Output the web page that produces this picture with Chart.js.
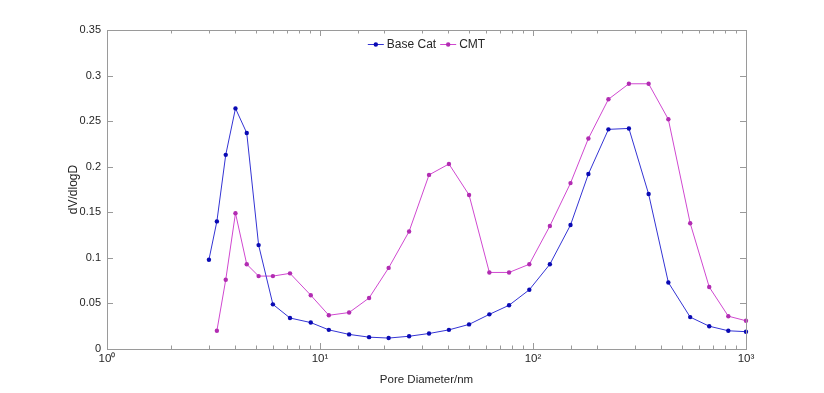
<!DOCTYPE html>
<html lang="en">
<head>
    <meta charset="UTF-8">
    <title>Pore size distribution</title>
    <script src="https://cdn.jsdelivr.net/npm/chart.js"></script>
    <style>
        html, body { margin: 0; padding: 0; background: #ffffff; }
        #wrap { width: 824px; height: 393px; }
    </style>
</head>
<body>
    <div id="wrap"><canvas id="grafico" width="824" height="393"></canvas></div>

    <script>
        // Pore diameter (nm) for every point of Base Cat
        const poreDiameter = [3.01, 3.28, 3.61, 4.01, 4.53, 5.15, 6.01, 7.23, 9.05, 11.0,
                              13.7, 17.0, 21.0, 26.2, 32.5, 40.3, 50.1, 62.4, 77.2, 96.1,
                              120, 150, 182, 226, 282, 349, 432, 547, 672, 826, 1000];
        const baseCat = [0.098, 0.140, 0.213, 0.264, 0.237, 0.114, 0.049, 0.034, 0.029, 0.021,
                         0.016, 0.013, 0.012, 0.014, 0.017, 0.021, 0.027, 0.038, 0.048, 0.065,
                         0.093, 0.136, 0.192, 0.241, 0.242, 0.170, 0.073, 0.035, 0.025, 0.020, 0.019];
        // CMT starts at the second diameter
        const cmtDiameter = [3.28, 3.61, 4.01, 4.53, 5.15, 6.01, 7.23, 9.05, 11.0,
                             13.7, 17.0, 21.0, 26.2, 32.5, 40.3, 50.1, 62.4, 77.2, 96.1,
                             120, 150, 182, 226, 282, 349, 432, 547, 672, 826, 1000];
        const cmt = [0.020, 0.076, 0.149, 0.093, 0.080, 0.080, 0.083, 0.059, 0.037,
                     0.040, 0.056, 0.089, 0.129, 0.191, 0.203, 0.169, 0.084, 0.084, 0.093,
                     0.135, 0.182, 0.231, 0.274, 0.291, 0.291, 0.252, 0.138, 0.068, 0.036, 0.031];
        const seriesNames = ['Base Cat', 'CMT'];
        const yTicks = [0, 0.05, 0.1, 0.15, 0.2, 0.25, 0.3, 0.35];
        const superDigits = ['⁰', '¹', '²', '³'];

        const textColor = '#262626';
        const axisColor = '#9a9a9a';
        const fontFamily = '"Liberation Sans", Arial, Helvetica, sans-serif';

        function toPoints(xs, ys) {
            return xs.map((x, i) => ({ x: x, y: ys[i] }));
        }

        // Box round the plot, inner ticks on all four sides, legend inside the plot
        const matlabAxes = {
            id: 'matlabAxes',
            afterDraw(chart) {
                const ctx = chart.ctx;
                const a = chart.chartArea;
                const xs = chart.scales.x;
                const ys = chart.scales.y;
                ctx.save();
                ctx.strokeStyle = axisColor;
                ctx.lineWidth = 1;
                ctx.strokeRect(Math.round(a.left) + 0.5, Math.round(a.top) + 0.5,
                               Math.round(a.right - a.left), Math.round(a.bottom - a.top));

                ctx.beginPath();
                xs.ticks.forEach(t => {
                    const px = Math.round(xs.getPixelForValue(t.value)) + 0.5;
                    if (px <= a.left + 1 || px >= a.right - 1) return;
                    const major = Math.abs(Math.log10(t.value) - Math.round(Math.log10(t.value))) < 1e-9;
                    const len = major ? 6 : 3.5;
                    ctx.moveTo(px, a.bottom); ctx.lineTo(px, a.bottom - len);
                    ctx.moveTo(px, a.top); ctx.lineTo(px, a.top + len);
                });
                yTicks.forEach(v => {
                    const py = Math.round(ys.getPixelForValue(v)) + 0.5;
                    if (py <= a.top + 1 || py >= a.bottom - 1) return;
                    ctx.moveTo(a.left, py); ctx.lineTo(a.left + 6, py);
                    ctx.moveTo(a.right, py); ctx.lineTo(a.right - 6, py);
                });
                ctx.stroke();

                // Legend
                ctx.font = '12px ' + fontFamily;
                ctx.textBaseline = 'middle';
                const lineLen = 16, gapText = 3, gapItem = 4;
                const widths = seriesNames.map(n => ctx.measureText(n).width);
                let total = 0;
                widths.forEach((w, i) => { total += lineLen + gapText + w + (i > 0 ? gapItem : 0); });
                let x = (a.left + a.right) / 2 - total / 2;
                const y = a.top + 14;
                chart.data.datasets.forEach((ds, i) => {
                    if (i > 0) x += gapItem;
                    ctx.strokeStyle = ds.borderColor;
                    ctx.beginPath();
                    ctx.moveTo(x, y + 0.5); ctx.lineTo(x + lineLen, y + 0.5);
                    ctx.stroke();
                    ctx.fillStyle = ds.pointBackgroundColor;
                    ctx.beginPath();
                    ctx.arc(x + lineLen / 2, y + 0.5, 2.2, 0, Math.PI * 2);
                    ctx.fill();
                    x += lineLen + gapText;
                    ctx.fillStyle = textColor;
                    ctx.textAlign = 'left';
                    ctx.fillText(seriesNames[i], x, y + 1);
                    x += widths[i];
                });
                ctx.restore();
            }
        };

        const ctx = document.getElementById('grafico').getContext('2d');
        const chart = new Chart(ctx, {
            type: 'line',
            data: {
                datasets: [{
                    label: seriesNames[0],
                    data: toPoints(poreDiameter, baseCat),
                    borderColor: '#3434d4',
                    borderWidth: 1,
                    pointBackgroundColor: '#0a0ab4',
                    pointBorderColor: '#0a0ab4',
                    pointRadius: 2.2,
                    pointBorderWidth: 0,
                    tension: 0,
                    clip: false
                }, {
                    label: seriesNames[1],
                    data: toPoints(cmtDiameter, cmt),
                    borderColor: '#d048d0',
                    borderWidth: 1,
                    pointBackgroundColor: '#b22cb2',
                    pointBorderColor: '#b22cb2',
                    pointRadius: 2.2,
                    pointBorderWidth: 0,
                    tension: 0,
                    clip: false
                }]
            },
            options: {
                responsive: false,
                animation: false,
                layout: { padding: { left: 0, right: 78, top: 30, bottom: 0 } },
                plugins: {
                    legend: { display: false },
                    tooltip: { enabled: false }
                },
                scales: {
                    x: {
                        type: 'logarithmic',
                        min: 1,
                        max: 1000,
                        grid: { display: false, drawTicks: false },
                        border: { display: false },
                        ticks: {
                            color: textColor,
                            font: { family: fontFamily, size: 11.5 },
                            padding: 3,
                            autoSkip: false,
                            maxRotation: 0,
                            callback: function (value) {
                                const e = Math.log10(value);
                                if (Math.abs(e - Math.round(e)) < 1e-9) {
                                    return '10' + superDigits[Math.round(e)];
                                }
                                return '';
                            }
                        },
                        title: {
                            display: true,
                            text: 'Pore Diameter/nm',
                            color: textColor,
                            font: { family: fontFamily, size: 11.5 },
                            padding: { top: 0, bottom: 6 }
                        },
                        afterFit: function (scale) { scale.height = 44; }
                    },
                    y: {
                        min: 0,
                        max: 0.35,
                        grid: { display: false, drawTicks: false },
                        border: { display: false },
                        ticks: {
                            color: textColor,
                            font: { family: fontFamily, size: 11 },
                            padding: 6,
                            stepSize: 0.05,
                            callback: function (value) {
                                return String(Number(value.toFixed(2)));
                            }
                        },
                        title: {
                            display: true,
                            text: 'dV/dlogD',
                            color: textColor,
                            font: { family: fontFamily, size: 12 },
                            padding: { top: 66, bottom: 0 }
                        },
                        afterFit: function (scale) { scale.width = 107; }
                    }
                }
            },
            plugins: [matlabAxes]
        });
    </script>
</body>
</html>
